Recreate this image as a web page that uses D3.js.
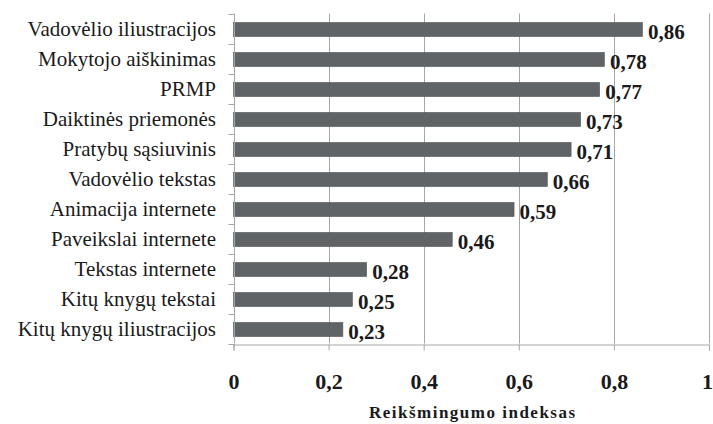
<!DOCTYPE html>
<html><head><meta charset="utf-8">
<script src="https://cdn.jsdelivr.net/npm/d3@7"></script>
<style>
html,body{margin:0;padding:0;background:#fff;}
svg{display:block;}
svg text{font-family:"Liberation Serif","Times New Roman",serif;}
</style></head>
<body>
<svg id="chart" width="713" height="424"></svg>
<script>
const categories = ["Vadovėlio iliustracijos","Mokytojo aiškinimas","PRMP","Daiktinės priemonės","Pratybų sąsiuvinis","Vadovėlio tekstas","Animacija internete","Paveikslai internete","Tekstas internete","Kitų knygų tekstai","Kitų knygų iliustracijos"];
const values = [0.86,0.78,0.77,0.73,0.71,0.66,0.59,0.46,0.28,0.25,0.23];
const xTicks = [0,0.2,0.4,0.6,0.8,1];
const axisTitle = "Reikšmingumo indeksas";

const svg = d3.select("#chart");
const m = {left:233.5, right:709, top:13.5, bottom:343.5};
const x = d3.scaleLinear().domain([0,1]).range([m.left,m.right]);
const y = d3.scaleBand().domain(categories).range([m.top,m.bottom]).paddingInner(0.53).paddingOuter(0.265);
const band = d3.scaleBand().domain(categories).range([m.top,m.bottom]);
const fmt = v => String(v).replace(".",",");
const font = '"Liberation Serif","Times New Roman",serif';
const gridColor = "#a6a6a6";
const textColor = "#1a1a1a";

// gridlines
svg.append("g").selectAll("line").data(xTicks.slice(1)).join("line")
  .attr("x1",d=>Math.round(x(d))+0.5).attr("x2",d=>Math.round(x(d))+0.5)
  .attr("y1",m.top).attr("y2",m.bottom)
  .attr("stroke",gridColor).attr("stroke-width",1);

// bars
svg.append("g").selectAll("rect").data(values).join("rect")
  .attr("x",x(0)).attr("y",(d,i)=>y(categories[i])+1)
  .attr("width",d=>x(d)-x(0)).attr("height",y.bandwidth())
  .attr("fill","#616466").attr("stroke","#555859").attr("stroke-width",0.6);

// left axis
const yAxis = svg.append("g").attr("transform",`translate(${Math.round(m.left)+0.5},0)`);
yAxis.append("line").attr("y1",m.top).attr("y2",m.bottom).attr("stroke",gridColor);
const tickYs = categories.map(c=>band(c)).concat([m.bottom]);
yAxis.selectAll("line.t").data(tickYs).join("line").attr("class","t")
  .attr("x1",-6).attr("x2",0).attr("y1",d=>Math.round(d)+0.5).attr("y2",d=>Math.round(d)+0.5)
  .attr("stroke",gridColor);
yAxis.selectAll("text").data(categories).join("text")
  .attr("x",216-Math.round(m.left)-0.5).attr("y",d=>band(d)+band.bandwidth()/2+7.5)
  .attr("text-anchor","end").style("font-family",font).style("font-size","21px").attr("fill",textColor)
  .text(d=>d);

// bottom axis
const xAxis = d3.axisBottom(x).tickValues(xTicks).tickSize(6).tickFormat(fmt);
const gx = svg.append("g").attr("transform",`translate(0,${Math.round(m.bottom)+0.5})`).call(xAxis);
gx.select(".domain").attr("stroke",gridColor);
gx.selectAll(".tick line").attr("stroke",gridColor);
gx.selectAll(".tick text").style("font-family",font).style("font-size","22px").style("font-weight","bold")
  .attr("fill",textColor).attr("dy",0).attr("y",44)
  .attr("dx",d=>d===1?-2:0);

// value labels
svg.append("g").selectAll("text").data(values).join("text")
  .attr("x",d=>x(d)+5.5).attr("y",(d,i)=>y(categories[i])+y.bandwidth()+3)
  .style("font-family",font).style("font-size","21px").style("font-weight","bold").attr("fill",textColor)
  .text(fmt);

// axis title
svg.append("text").attr("x",(m.left+m.right)/2+1.5).attr("y",418)
  .attr("text-anchor","middle").style("font-family",font).style("font-size","17px").style("font-weight","bold")
  .attr("letter-spacing",1.5).attr("fill",textColor).text(axisTitle);
</script>
</body></html>
